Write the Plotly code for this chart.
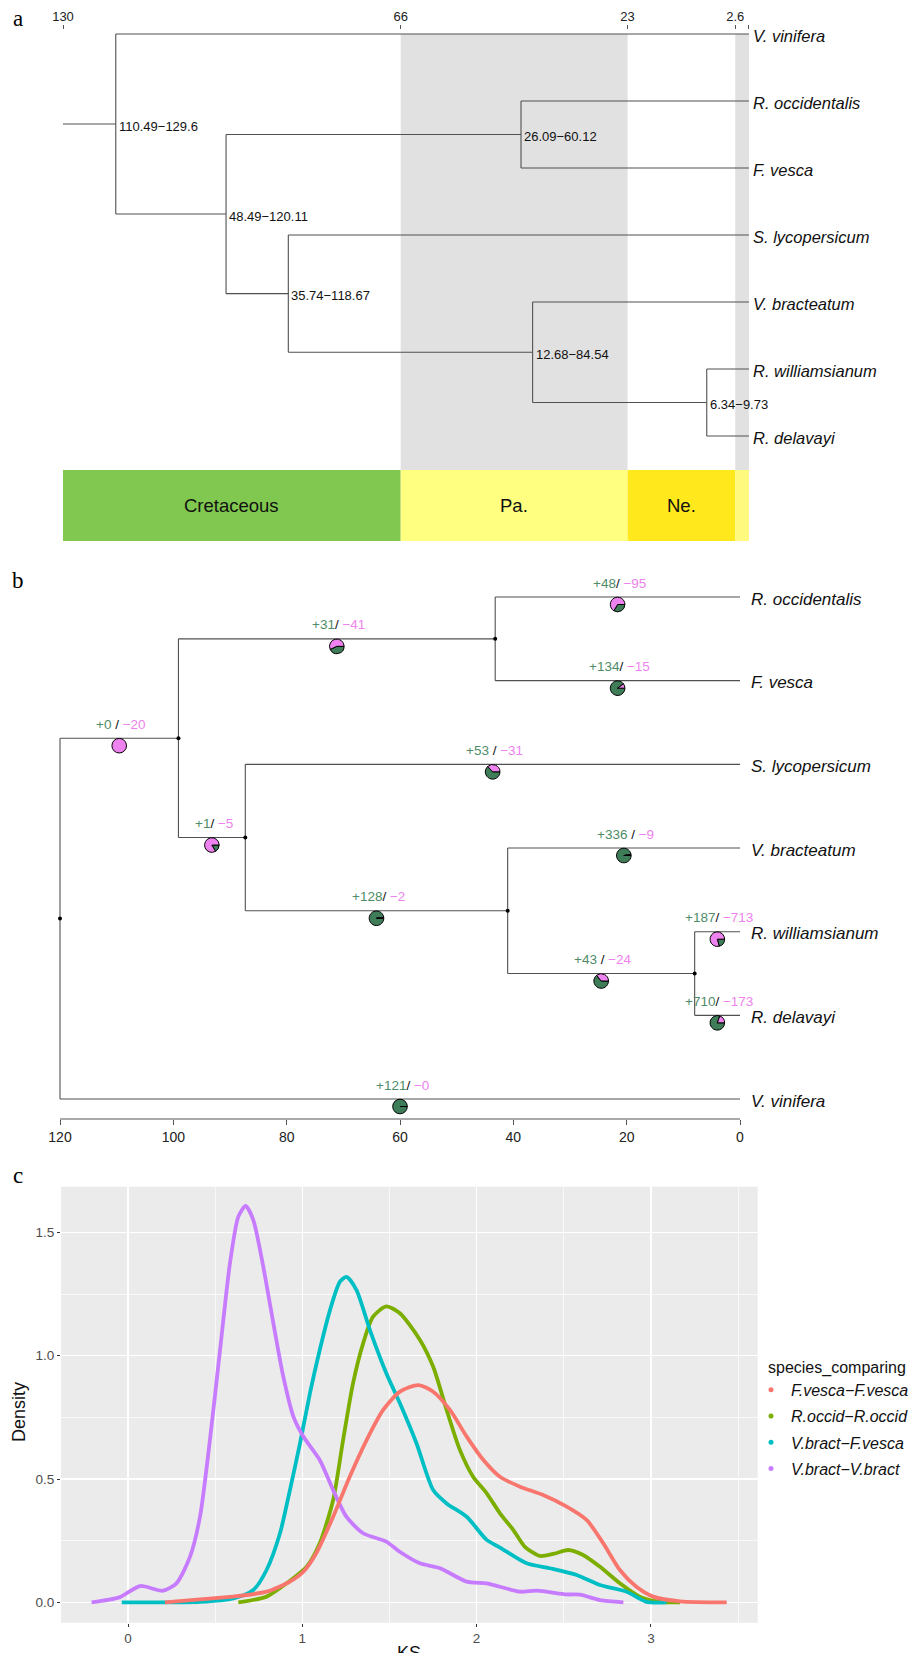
import plotly.graph_objects as go

W, H = 916, 1653
FONT = "Liberation Sans, Arial, sans-serif"
SERIF = "Liberation Serif, Times New Roman, serif"

# ---------------- data ----------------
tips_a = ["V. vinifera", "R. occidentalis", "F. vesca", "S. lycopersicum",
          "V. bracteatum", "R. williamsianum", "R. delavayi"]
tips_b = ["R. occidentalis", "F. vesca", "S. lycopersicum", "V. bracteatum",
          "R. williamsianum", "R. delavayi", "V. vinifera"]
node_names = ["root", "core", "ros", "ast", "eri", "rho"]
node_ages = [120.0, 99.1, 43.2, 87.3, 41.0, 8.0]          # Mya
root_stem_age = 130.0
children_a = {"root": ["V. vinifera", "core"], "core": ["ros", "ast"],
              "ros": ["R. occidentalis", "F. vesca"], "ast": ["S. lycopersicum", "eri"],
              "eri": ["V. bracteatum", "rho"], "rho": ["R. williamsianum", "R. delavayi"]}
children_b = {"root": ["core", "V. vinifera"], "core": ["ros", "ast"],
              "ros": ["R. occidentalis", "F. vesca"], "ast": ["S. lycopersicum", "eri"],
              "eri": ["V. bracteatum", "rho"], "rho": ["R. williamsianum", "R. delavayi"]}
node_ci = ["110.49\u2212129.6", "48.49\u2212120.11", "26.09\u221260.12",
           "35.74\u2212118.67", "12.68\u221284.54", "6.34\u22129.73"]

time_ticks_a = [130, 66, 23, 2.6, 0]
time_tick_text_a = ["130", "66", "23", "2.6", ""]
period_names = ["Cretaceous", "Pa.", "Ne.", ""]
period_start = [130, 66, 23, 2.6]
period_end = [66, 23, 2.6, 0]
period_colors = ["#80C84F", "#FFFF80", "#FFE81C", "#FFF97E"]
period_gray_band = [False, True, False, True]

time_ticks_b = [120, 100, 80, 60, 40, 20, 0]

branch_child = ["core", "ros", "R. occidentalis", "F. vesca", "ast", "S. lycopersicum",
                "eri", "V. bracteatum", "rho", "R. williamsianum", "R. delavayi", "V. vinifera"]
gains = [0, 31, 48, 134, 1, 53, 128, 336, 43, 187, 710, 121]
losses = [20, 41, 95, 15, 5, 31, 2, 9, 24, 713, 173, 0]
label_sep = [" / ", "/ ", "/ ", "/ ", "/ ", " / ", "/ ", " / ", " / ", "/ ", "/ ", "/ "]

series_names = ["F.vesca\u2212F.vesca", "R.occid\u2212R.occid", "V.bract\u2212F.vesca", "V.bract\u2212V.bract"]
series_colors = ["#F8766D", "#7CAE00", "#00BFC4", "#C77CFF"]
fv_ks = [0.212, 0.413, 0.604, 0.795, 0.929, 1.006, 1.08, 1.177, 1.272, 1.369, 1.464, 1.56, 1.666,
         1.751, 1.847, 1.943, 2.039, 2.134, 2.249, 2.382, 2.517, 2.631, 2.727, 2.822, 2.917,
         3.013, 3.167, 3.435]
fv_den = [0.0, 0.012, 0.023, 0.043, 0.084, 0.124, 0.199, 0.347, 0.509, 0.658, 0.78, 0.854, 0.881,
          0.854, 0.78, 0.672, 0.577, 0.509, 0.469, 0.435, 0.388, 0.334, 0.239, 0.131, 0.063,
          0.023, 0.004, 0.0]
ro_ks = [0.633, 0.795, 0.91, 1.025, 1.1, 1.177, 1.234, 1.291, 1.349, 1.406, 1.482, 1.56, 1.675,
         1.751, 1.828, 1.904, 1.98, 2.058, 2.134, 2.211, 2.277, 2.363, 2.439, 2.525, 2.611,
         2.708, 2.822, 2.936, 3.05, 3.167]
ro_den = [0.0, 0.023, 0.077, 0.144, 0.239, 0.415, 0.658, 0.888, 1.05, 1.158, 1.20, 1.172, 1.064,
          0.955, 0.78, 0.618, 0.509, 0.442, 0.361, 0.293, 0.225, 0.188, 0.196, 0.212, 0.192,
          0.144, 0.077, 0.023, 0.002, 0.0]
vf_ks = [-0.036, 0.413, 0.604, 0.719, 0.795, 0.872, 0.929, 0.987, 1.044, 1.1, 1.159, 1.216, 1.254,
         1.311, 1.388, 1.482, 1.56, 1.655, 1.751, 1.828, 1.943, 2.058, 2.134, 2.287, 2.421,
         2.574, 2.708, 2.861, 2.974, 3.09]
vf_den = [0.0, 0.002, 0.016, 0.05, 0.131, 0.28, 0.455, 0.645, 0.848, 1.023, 1.185, 1.30, 1.32,
          1.266, 1.104, 0.929, 0.807, 0.645, 0.455, 0.401, 0.347, 0.253, 0.222, 0.158, 0.138,
          0.111, 0.07, 0.043, 0.002, 0.0]
vv_ks = [-0.209, -0.05, 0.069, 0.20, 0.278, 0.356, 0.413, 0.47, 0.528, 0.585, 0.633, 0.675, 0.719,
         0.776, 0.834, 0.891, 0.949, 1.006, 1.1, 1.177, 1.253, 1.349, 1.482, 1.559, 1.675, 1.79,
         1.943, 2.058, 2.134, 2.249, 2.345, 2.517, 2.593, 2.708, 2.842]
vv_den = [0.0, 0.02, 0.066, 0.047, 0.077, 0.185, 0.347, 0.658, 1.023, 1.375, 1.564, 1.607, 1.55,
          1.361, 1.131, 0.915, 0.753, 0.672, 0.577, 0.455, 0.347, 0.28, 0.246, 0.205, 0.158, 0.138,
          0.084, 0.077, 0.063, 0.043, 0.047, 0.032, 0.031, 0.009, 0.0]
ks_series = [(fv_ks, fv_den), (ro_ks, ro_den), (vf_ks, vf_den), (vv_ks, vv_den)]

# ---------------- layout helpers (pixel geometry) ----------------
def px(x):
    return x / W

def py(y):
    return 1 - y / H

# panel a: time <-> pixel
A_X0, A_SC = 63.0, 5.2766        # px of 130 Mya, px per Myr
A_Y0, A_DY = 34.0, 67.0          # px of first tip, spacing
def a_t(p): return 130 - (p - A_X0) / A_SC
def a_i(p): return (p - A_Y0) / A_DY
A_DOM = (29.5, 560.0)

# panel b
B_X0, B_SC = 60.0, 5.6667        # px of 120 Mya
B_Y0, B_DY = 597.0, 83.67
def b_t(p): return 120 - (p - B_X0) / B_SC
def b_i(p): return (p - B_Y0) / B_DY
def b_px(t): return B_X0 + (120 - t) * B_SC
def b_py(i): return B_Y0 + i * B_DY
B_DOM = (560.0, 1119.0)

# panel c
C_X0, C_XS = 128.0, 174.3
C_Y0, C_YS = 1602.3, 246.6
C_DOMX = (61.0, 757.7)
C_DOMY = (1186.7, 1622.7)

age = dict(zip(node_names, node_ages))

def tree_layout(children, tips):
    ypos = {t: float(i) for i, t in enumerate(tips)}
    def gy(n):
        if n not in ypos:
            ch = children[n]
            ypos[n] = (gy(ch[0]) + gy(ch[-1])) / 2
        return ypos[n]
    gy("root")
    return ypos

def ag(n):
    return age.get(n, 0.0)

def segments(children, ypos, stem=None):
    xs, ys = [], []
    for n, ch in children.items():
        xs += [ag(n), ag(n), None]
        ys += [ypos[ch[0]], ypos[ch[-1]], None]
        for c in ch:
            xs += [ag(n), ag(c), None]
            ys += [ypos[c], ypos[c], None]
    if stem is not None:
        xs += [stem, ag("root"), None]
        ys += [ypos["root"], ypos["root"], None]
    return xs, ys

parent_of = {}
for n, ch in children_b.items():
    for c in ch:
        parent_of[c] = n

fig = go.Figure()
shapes, annotations = [], []
LINE = "#505050"

# ---------------- panel a ----------------
ya = tree_layout(children_a, tips_a)
sx, sy = segments(children_a, ya, stem=root_stem_age)
fig.add_trace(go.Scatter(x=sx, y=sy, mode="lines", line=dict(color=LINE, width=1.1),
                         xaxis="x", yaxis="y", showlegend=False, hoverinfo="skip"))

band_top = a_i(34)
band_bot = a_i(470)
bar_bot = a_i(541)
for s, e, c, g, nm in zip(period_start, period_end, period_colors, period_gray_band, period_names):
    if g:
        shapes.append(dict(type="rect", xref="x", yref="y", x0=s, x1=e, y0=band_top, y1=band_bot,
                           fillcolor="#E1E1E1", line=dict(width=0), layer="below"))
    shapes.append(dict(type="rect", xref="x", yref="y", x0=s, x1=e, y0=band_bot, y1=bar_bot,
                       fillcolor=c, line=dict(width=0), layer="below"))
    if nm:
        annotations.append(dict(x=(s + e) / 2, y=(band_bot + bar_bot) / 2, xref="x", yref="y",
                                text=nm, showarrow=False, font=dict(family=FONT, size=18.5, color="#111")))

for n, ci in zip(node_names, node_ci):
    annotations.append(dict(x=ag(n), y=ya[n], xref="x", yref="y", text=ci, showarrow=False,
                            xanchor="left", yanchor="middle", xshift=1, yshift=-2,
                            font=dict(family=FONT, size=13, color="#111")))
for t in tips_a:
    annotations.append(dict(x=0, y=ya[t], xref="x", yref="y", text="<i>%s</i>" % t, showarrow=False,
                            xanchor="left", yanchor="middle", xshift=2, yshift=-2,
                            font=dict(family=FONT, size=16.5, color="#111")))

# ---------------- panel b ----------------
yb = tree_layout(children_b, tips_b)
sx, sy = segments(children_b, yb)
fig.add_trace(go.Scatter(x=sx, y=sy, mode="lines", line=dict(color=LINE, width=1.1),
                         xaxis="x2", yaxis="y2", showlegend=False, hoverinfo="skip"))
fig.add_trace(go.Scatter(x=[ag(n) for n in node_names], y=[yb[n] for n in node_names], mode="markers",
                         marker=dict(color="black", size=4), xaxis="x2", yaxis="y2",
                         showlegend=False, hoverinfo="skip"))
shapes.append(dict(type="line", xref="x2", yref="y2 domain", x0=time_ticks_b[0], x1=time_ticks_b[-1],
                   y0=0, y1=0, line=dict(color="#555", width=1.2)))

R = 7.3
for c, g, l, sep in zip(branch_child, gains, losses, label_sep):
    mid = (ag(parent_of[c]) + ag(c)) / 2
    cx = b_px(mid)
    cy = b_py(yb[c]) + 7.5
    fig.add_trace(go.Pie(values=[g, l], labels=["gain", "loss"], sort=False,
                         direction="counterclockwise", rotation=90,
                         marker=dict(colors=["#3F7C58", "#EE82EE"], line=dict(color="black", width=1)),
                         textinfo="none", hoverinfo="skip", showlegend=False,
                         domain=dict(x=[px(cx - R), px(cx + R)], y=[py(cy + R), py(cy - R)])))
    pre = sep.rstrip()
    post = " " if sep.endswith(" ") else ""
    txt = ('<span style="color:#4E8C68">+%d</span><span style="color:#111">%s</span>'
           '<span style="color:#EE82EE">%s\u2212%d</span>') % (g, pre, post, l)
    annotations.append(dict(x=mid, y=yb[c], xref="x2", yref="y2", text=txt, showarrow=False,
                            xanchor="center", yanchor="middle", yshift=14, xshift=2,
                            font=dict(family=FONT, size=13.5)))
for t in tips_b:
    annotations.append(dict(x=0, y=yb[t], xref="x2", yref="y2", text="<i>%s</i>" % t, showarrow=False,
                            xanchor="left", yanchor="middle", xshift=9, yshift=-2,
                            font=dict(family=FONT, size=17, color="#111")))

# ---------------- panel c ----------------
shapes.append(dict(type="rect", xref="x3 domain", yref="y3 domain", x0=0, x1=1, y0=0, y1=1,
                   fillcolor="#EBEBEB", line=dict(width=0), layer="below"))
for idx in [1, 2, 3, 0]:
    xs, ys = ks_series[idx]
    fig.add_trace(go.Scatter(x=xs, y=ys, mode="lines", line=dict(color=series_colors[idx], width=3.8,
                                                                  shape="spline", smoothing=0.7),
                             xaxis="x3", yaxis="y3", showlegend=False, hoverinfo="skip"))
for nm, col in zip(series_names, series_colors):
    fig.add_trace(go.Scatter(x=[None], y=[None], mode="markers", name="<i>%s</i>" % nm,
                             marker=dict(color=col, size=5), xaxis="x3", yaxis="y3",
                             legendgroup=nm, showlegend=True))

annotations.append(dict(x=px(19), y=py(1412), xref="paper", yref="paper", text="Density", textangle=-90,
                        xanchor="center", yanchor="middle",
                        showarrow=False, font=dict(family=FONT, size=18, color="#111")))
annotations.append(dict(x=px(409), y=py(1641), xref="paper", yref="paper", text="KS",
                        xanchor="center", yanchor="top",
                        showarrow=False, font=dict(family=FONT, size=18, color="#111")))

# panel letters
for letter, (lx, ly) in zip(["a", "b", "c"], [(18, 19), (18, 580), (18, 1175)]):
    annotations.append(dict(x=px(lx), y=py(ly), xref="paper", yref="paper", text=letter,
                            xanchor="center", yanchor="middle",
                            showarrow=False, font=dict(family=SERIF, size=23, color="black")))

fig.update_layout(
    width=W, height=H, margin=dict(l=0, r=0, t=0, b=0),
    paper_bgcolor="white", plot_bgcolor="rgba(0,0,0,0)",
    font=dict(family=FONT, color="#111"),
    hovermode=False,
    xaxis=dict(domain=[0, 1], range=[a_t(0), a_t(W)], side="top", anchor="y",
               tickvals=time_ticks_a, ticktext=time_tick_text_a, ticks="outside", ticklen=4,
               tickcolor="#555", tickfont=dict(size=13, color="#222"), showgrid=False,
               zeroline=False, showline=False, ticklabelstandoff=-2),
    yaxis=dict(domain=[py(A_DOM[1]), py(A_DOM[0])], range=[a_i(A_DOM[1]), a_i(A_DOM[0])],
               visible=False, anchor="x"),
    xaxis2=dict(domain=[0, 1], range=[b_t(0), b_t(W)], anchor="y2",
                tickvals=time_ticks_b, ticks="outside", ticklen=5, tickcolor="#555",
                tickfont=dict(size=14, color="#222"), showgrid=False, zeroline=False, showline=False),
    yaxis2=dict(domain=[py(B_DOM[1]), py(B_DOM[0])], range=[b_i(B_DOM[1]), b_i(B_DOM[0])],
                visible=False, anchor="x2"),
    xaxis3=dict(domain=[px(C_DOMX[0]), px(C_DOMX[1])],
                range=[(C_DOMX[0] - C_X0) / C_XS, (C_DOMX[1] - C_X0) / C_XS], anchor="y3",
                tickvals=[0, 1, 2, 3], ticks="outside", ticklen=3, tickcolor="#333",
                tickfont=dict(size=13.5, color="#4D4D4D"), showgrid=True, gridcolor="white",
                gridwidth=1.4, zeroline=False, showline=False,
                minor=dict(tickvals=[0.5, 1.5, 2.5, 3.5], showgrid=True, gridcolor="white",
                           gridwidth=0.7, ticks="")),
    yaxis3=dict(domain=[py(C_DOMY[1]), py(C_DOMY[0])],
                range=[(C_Y0 - C_DOMY[1]) / C_YS, (C_Y0 - C_DOMY[0]) / C_YS], anchor="x3",
                tickvals=[0, 0.5, 1, 1.5], ticktext=["0.0", "0.5", "1.0", "1.5"], ticks="outside",
                ticklen=3, tickcolor="#333", tickfont=dict(size=13.5, color="#4D4D4D"),
                showgrid=True, gridcolor="white", gridwidth=1.4, zeroline=False, showline=False,
                minor=dict(tickvals=[0.25, 0.75, 1.25], showgrid=True, gridcolor="white",
                           gridwidth=0.7, ticks="")),
    legend=dict(x=px(766), y=py(1352), xanchor="left", yanchor="top", bgcolor="rgba(0,0,0,0)",
                title=dict(text="species_comparing", font=dict(family=FONT, size=16, color="#111")),
                font=dict(family=FONT, size=16, color="#111"), tracegroupgap=2.5,
                indentation=-15, itemwidth=30),
    shapes=shapes, annotations=annotations,
)

fig.write_html("out.html", config={"displayModeBar": False, "staticPlot": True},
               post_script="document.body.style.margin='0px';document.body.style.padding='0px';")
